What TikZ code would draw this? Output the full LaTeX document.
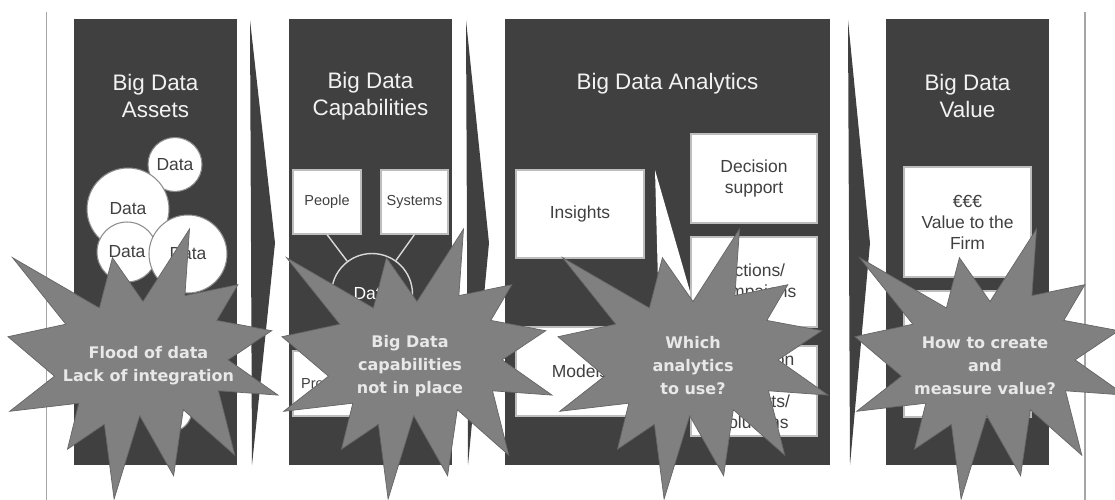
\documentclass[tikz,border=0pt]{standalone}
\usepackage{fontspec}
\setmainfont{Liberation Sans}
\newfontfamily\burstfamily{DejaVu Sans}
\usepackage{xcolor}
\usepackage{tikz}
\usetikzlibrary{shapes, positioning}

\definecolor{panelgray}{HTML}{404040}
\definecolor{burstgray}{HTML}{808080}
\definecolor{burstline}{HTML}{656565}
\definecolor{burstwhite}{HTML}{E8E8E8}
\definecolor{titlewhite}{HTML}{F2F2F2}
\definecolor{boxline}{HTML}{BDBDBD}
\definecolor{bubbleline}{HTML}{8C8C8C}
\definecolor{hubline}{HTML}{D9D9D9}
\definecolor{textgray}{HTML}{404040}
\definecolor{framegray}{HTML}{A6A6A6}

\begin{document}
\begin{tikzpicture}[
    x=0.02cm, y=-0.02cm,
    panel/.style={fill=panelgray},
    title/.style={text=titlewhite, align=center, font=\fontsize{12.75pt}{15.4pt}\selectfont},
    wbox/.style={rectangle, fill=white, draw=boxline, line width=0.6pt, inner sep=0pt, align=center, text=textgray, font=\fontsize{9.95pt}{11.95pt}\selectfont},
    smallbox/.style={wbox, font=\fontsize{8.25pt}{10pt}\selectfont},
    bubble/.style={circle, fill=white, draw=bubbleline, line width=0.6pt, inner sep=0pt, text=textgray, font=\fontsize{9.95pt}{11.95pt}\selectfont},
    burst/.style={fill=burstgray, draw=burstline, line width=0.4pt},
    bursttext/.style={text=burstwhite, align=center, font=\burstfamily\bfseries\fontsize{9.1pt}{13.1pt}\selectfont}
]

% --- RAHMEN ---
\clip (0,0) rectangle (1115,500);
\fill[white] (0,0) rectangle (1115,500);
\draw[framegray, line width=0.85pt] (46.5,12) -- (46.5,500);
\draw[framegray, line width=0.85pt] (1085,12) -- (1085,500);

% --- SPALTEN & PFEILE ---
\foreach \xa/\xb in {74/237, 289/452, 505/830, 886/1049}
  \fill[panel] (\xa,19) rectangle (\xb,465);
\foreach \xa/\xb in {250/275, 466/489, 848/870}
  \fill[panel] (\xa,20) -- (\xb,243) -- (\xa+2,465) -- cycle;

% Titel
\node[title] (t1) at (155.5,96) {Big Data\\Assets};
\node[title] (t2) at (370.5,96) {Big Data\\Capabilities};
\node[title] (t3) at (667.5,84) {Big Data Analytics};
\node[title] (t4) at (967.5,96) {Big Data\\Value};

% --- 1 - ASSETS ---
\node[bubble, minimum size=1.08cm] (d1) at (175,164.5) {Data};
\node[bubble, minimum size=1.64cm] (d2) at (128,209) {Data};
\node[bubble, minimum size=1.2cm] (d3) at (127,252) {Data};
\node[bubble, minimum size=1.56cm] (d4) at (188,254) {Data};
\node[bubble, minimum size=0.88cm] (d5) at (170,410) {};

% --- 2 - CAPABILITIES ---
\node[smallbox, minimum width=1.36cm, minimum height=1.28cm] (people) at (327,202) {People};
\node[smallbox, minimum width=1.34cm, minimum height=1.28cm] (systems) at (414.5,202) {Systems};
\node[smallbox, minimum width=1.68cm, minimum height=1.30cm] (processes) at (335,383.5) {Processes};
\node[circle, draw=hubline, line width=0.8pt, minimum size=1.62cm, inner sep=0pt, text=white,
      font=\fontsize{9.95pt}{11.95pt}\selectfont] (hub) at (372,294) {Data};
\draw[hubline, line width=0.8pt] (people.south) -- (hub);
\draw[hubline, line width=0.8pt] (systems.south) -- (hub);

% --- 3 - ANALYTICS ---
\fill[white] (655,170) -- (693,302) -- (662,430) -- cycle;
\node[wbox, minimum width=2.56cm, minimum height=1.76cm] (insights) at (580,214) {Insights};
\node[wbox, minimum width=2.56cm, minimum height=1.78cm] (models) at (580,371.5) {Models};
\node[wbox, minimum width=2.52cm, minimum height=1.78cm] (decision) at (754,178.5) {Decision\\support};
\node[wbox, minimum width=2.52cm, minimum height=1.80cm] (actions) at (754,282) {Actions/\\campaigns};
\node[wbox, minimum width=2.52cm, minimum height=1.80cm] (innovation) at (754,391) {Innovation\\[11.95pt]products/\\solutions};

% --- 4 - VALUE ---
\node[wbox, minimum width=2.54cm, minimum height=2.20cm] (value) at (967.5,222) {€€€\\Value to the\\Firm};
\node[wbox, minimum width=2.54cm, minimum height=2.52cm] (value2) at (967.5,354) {};

% --- EXPLOSIONEN ---
\foreach \sx in {8, 282, 558, 855} {
  \begin{scope}[shift={(\sx,229)}]
    \filldraw[burst] (135,72.5) -- (181.5,0) -- (176.9,66.6) -- (229.8,55.7) -- (208.8,91.4)
      -- (263.7,101.7) -- (220.1,130.9) -- (270,166.1) -- (210.5,161.8) -- (226.8,226.2)
      -- (175.3,180.7) -- (165.6,246.7) -- (131.7,186.7) -- (106.1,270) -- (96.4,195.3)
      -- (59.5,220.2) -- (70.8,174.2) -- (1.7,182.3) -- (46.5,147.2) -- (0,107.7)
      -- (57.8,95.2) -- (4.6,28.7) -- (91.4,79) -- (104.4,28.7) -- cycle;
  \end{scope}
}
\node[bursttext] (q1) at (148.5,366) {Flood of data\\Lack of integration};
\node[bursttext] (q2) at (410,366) {Big Data\\capabilities\\not in place};
\node[bursttext] (q3) at (693,366) {Which\\analytics\\to use?};
\node[bursttext] (q4) at (985,366) {How to create\\and\\measure value?};

\end{tikzpicture}
\end{document}
